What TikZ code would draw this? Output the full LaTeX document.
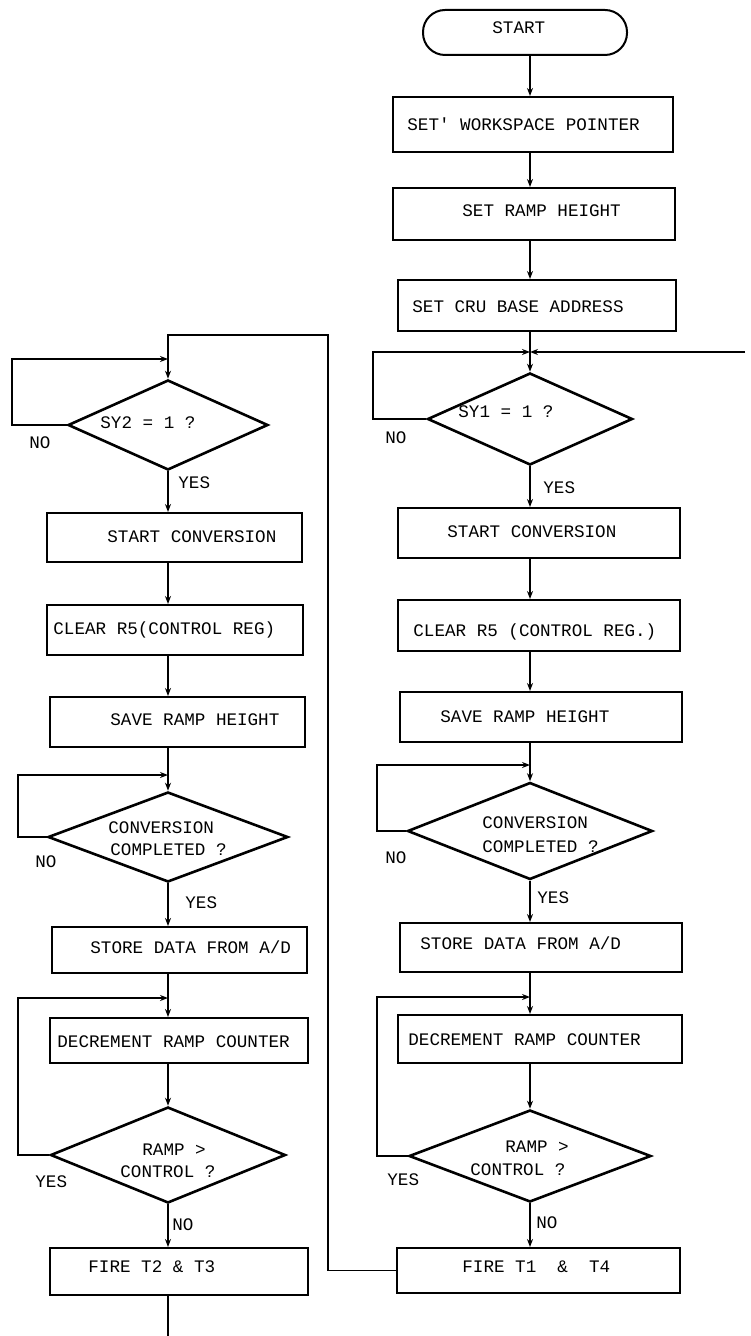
\documentclass[tikz,border=0pt]{standalone}
\usepackage{fontspec}
\setmonofont{Liberation Mono}
\usetikzlibrary{shapes.geometric,arrows.meta}
\begin{document}
\begin{tikzpicture}[x=0.5pt,y=-0.5pt,
  box/.style={draw,line width=1pt,rectangle,inner sep=0pt},
  term/.style={draw,line width=1pt,rectangle,rounded corners=11pt,inner sep=0pt},
  dec/.style={draw,line width=1.3pt,diamond,inner sep=0pt},
  txt/.style={inner sep=0pt,anchor=west,font=\fontsize{8.8pt}{10pt}\selectfont\ttfamily},
  ln/.style={line width=0.9pt},
  arr/.style={line width=0.9pt,-{Stealth[length=4pt,width=3pt]}}]
\useasboundingbox (0,0) rectangle (750,1336);
\coordinate (R) at (530,0);
\coordinate (L) at (168,0);
% ---------- right column ----------
\node[term,minimum width=102pt,minimum height=22.5pt] (start) at (525,32.5) {};
\node[txt] (tstart) at (492,28) {START};
\node[box,minimum width=140pt,minimum height=27.5pt] (b1) at (533,124.5) {};
\node[txt] (t1) at (407,124) {SET' WORKSPACE POINTER};
\node[box,minimum width=141pt,minimum height=26pt] (b2) at (534,214) {};
\node[txt] (t2) at (462,211) {SET RAMP HEIGHT};
\node[box,minimum width=139pt,minimum height=25.5pt] (b3) at (537,305.5) {};
\node[txt] (t3) at (412,307) {SET CRU BASE ADDRESS};
\node[dec,minimum width=102.5pt,minimum height=46pt] (d1) at (530,419) {};
\node[txt] (td1) at (458,412) {SY1 = 1 ?};
\node[txt] (no1) at (385,438) {NO};
\node[txt] (yes1) at (543,488) {YES};
\node[box,minimum width=141pt,minimum height=25pt] (b4) at (539,533) {};
\node[txt] (t4) at (447,532) {START CONVERSION};
\node[box,minimum width=141pt,minimum height=25.5pt] (b5) at (539,625.5) {};
\node[txt] (t5) at (413,632) {CLEAR R5 (CONTROL REG.)};
\node[box,minimum width=141pt,minimum height=25pt] (b6) at (541,717) {};
\node[txt] (t6) at (440,717) {SAVE RAMP HEIGHT};
\node[dec,minimum width=122.5pt,minimum height=48.5pt] (d2) at (530,831) {};
\node[txt] (td2a) at (482,823) {CONVERSION};
\node[txt] (td2b) at (482,847) {COMPLETED ?};
\node[txt] (no2) at (385,858) {NO};
\node[txt] (yes2) at (537,898) {YES};
\node[box,minimum width=141pt,minimum height=24.5pt] (b7) at (541,947.5) {};
\node[txt] (t7) at (420,943) {STORE DATA FROM A/D};
\node[box,minimum width=142pt,minimum height=24pt] (b8) at (540,1039) {};
\node[txt] (t8) at (408,1040) {DECREMENT RAMP COUNTER};
\node[dec,minimum width=121pt,minimum height=46pt] (d3) at (530,1156) {};
\node[txt] (td3a) at (505,1147) {RAMP >};
\node[txt] (td3b) at (470,1170) {CONTROL ?};
\node[txt] (yes3) at (387,1180) {YES};
\node[txt] (no3) at (536,1223) {NO};
\node[box,minimum width=141.5pt,minimum height=22.5pt] (b9) at (538.5,1270.5) {};
\node[txt] (t9) at (462,1267) {FIRE T1\ \ \&\ \ T4};
% ---------- left column ----------
\node[dec,minimum width=100pt,minimum height=45pt] (d4) at (168,425) {};
\node[txt] (td4) at (100,423) {SY2 = 1 ?};
\node[txt] (no4) at (29,443) {NO};
\node[txt] (yes4) at (178,483) {YES};
\node[box,minimum width=127.5pt,minimum height=24.5pt] (b10) at (174.5,537.5) {};
\node[txt] (t10) at (107,537) {START CONVERSION};
\node[box,minimum width=128pt,minimum height=25pt] (b11) at (175,630) {};
\node[txt] (t11) at (53,630) {CLEAR R5(CONTROL REG)};
\node[box,minimum width=127.5pt,minimum height=25pt] (b12) at (177.5,722) {};
\node[txt] (t12) at (110,720) {SAVE RAMP HEIGHT};
\node[dec,minimum width=120pt,minimum height=45pt] (d5) at (168,837) {};
\node[txt] (td5a) at (108,828) {CONVERSION};
\node[txt] (td5b) at (110,850) {COMPLETED ?};
\node[txt] (no5) at (35,862) {NO};
\node[txt] (yes5) at (185,903) {YES};
\node[box,minimum width=127.5pt,minimum height=23pt] (b13) at (179.5,950) {};
\node[txt] (t13) at (90,947) {STORE DATA FROM A/D};
\node[box,minimum width=129pt,minimum height=22.5pt] (b14) at (179,1040.5) {};
\node[txt] (t14) at (57,1042) {DECREMENT RAMP COUNTER};
\node[dec,minimum width=117.5pt,minimum height=48pt] (d6) at (168,1155) {};
\node[txt] (td6a) at (142,1150) {RAMP >};
\node[txt] (td6b) at (120,1172) {CONTROL ?};
\node[txt] (yes6) at (35,1182) {YES};
\node[txt] (no6) at (172,1225) {NO};
\node[box,minimum width=129pt,minimum height=23.5pt] (b15) at (179,1271.5) {};
\node[txt] (t15) at (88,1267) {FIRE T2 \& T3};
% ---------- junction coordinates ----------
\coordinate (jr1) at (530,352);
\coordinate (lr1) at (373,352);
\coordinate (inR) at (745,352);
\coordinate (jr2) at (530,765);
\coordinate (lr2) at (377,765);
\coordinate (jr3) at (530,997);
\coordinate (lr3) at (377,997);
\coordinate (c1) at (328,335);
\coordinate (c2) at (168,335);
\coordinate (jl1) at (168,359);
\coordinate (ll1) at (12,359);
\coordinate (jl2) at (168,775);
\coordinate (ll2) at (18,775);
\coordinate (jl3) at (168,998);
\coordinate (ll3) at (18,998);
\coordinate (outL) at (168,1336);
% ---------- right connectors ----------
\draw[arr] (start.south -| R) -- (b1.north -| R);
\draw[arr] (b1.south -| R) -- (b2.north -| R);
\draw[arr] (b2.south -| R) -- (b3.north -| R);
\draw[ln] (b3.south -| R) -- (jr1);
\draw[arr] (jr1) -- (d1.north);
\draw[arr] (d1.west) -| (lr1) -- (jr1);
\draw[arr] (inR) -- (jr1);
\draw[arr] (d1.south) -- (b4.north -| R);
\draw[arr] (b4.south -| R) -- (b5.north -| R);
\draw[arr] (b5.south -| R) -- (b6.north -| R);
\draw[ln] (b6.south -| R) -- (jr2);
\draw[arr] (jr2) -- (d2.north);
\draw[arr] (d2.west) -| (lr2) -- (jr2);
\draw[arr] (d2.south) -- (b7.north -| R);
\draw[ln] (b7.south -| R) -- (jr3);
\draw[arr] (jr3) -- (b8.north -| R);
\draw[arr] (b8.south -| R) -- (d3.north);
\draw[arr] (d3.west) -| (lr3) -- (jr3);
\draw[arr] (d3.south) -- (b9.north -| R);
% ---------- cross-over to left column ----------
\draw[arr] (b9.west) -| (c1) -- (c2) -- (d4.north);
\draw[arr] (d4.west) -| (ll1) -- (jl1);
% ---------- left connectors ----------
\draw[arr] (d4.south) -- (b10.north -| L);
\draw[arr] (b10.south -| L) -- (b11.north -| L);
\draw[arr] (b11.south -| L) -- (b12.north -| L);
\draw[ln] (b12.south -| L) -- (jl2);
\draw[arr] (jl2) -- (d5.north);
\draw[arr] (d5.west) -| (ll2) -- (jl2);
\draw[arr] (d5.south) -- (b13.north -| L);
\draw[ln] (b13.south -| L) -- (jl3);
\draw[arr] (jl3) -- (b14.north -| L);
\draw[arr] (b14.south -| L) -- (d6.north);
\draw[arr] (d6.west) -| (ll3) -- (jl3);
\draw[arr] (d6.south) -- (b15.north -| L);
\draw[ln] (b15.south -| L) -- (outL);
\end{tikzpicture}
\end{document}
